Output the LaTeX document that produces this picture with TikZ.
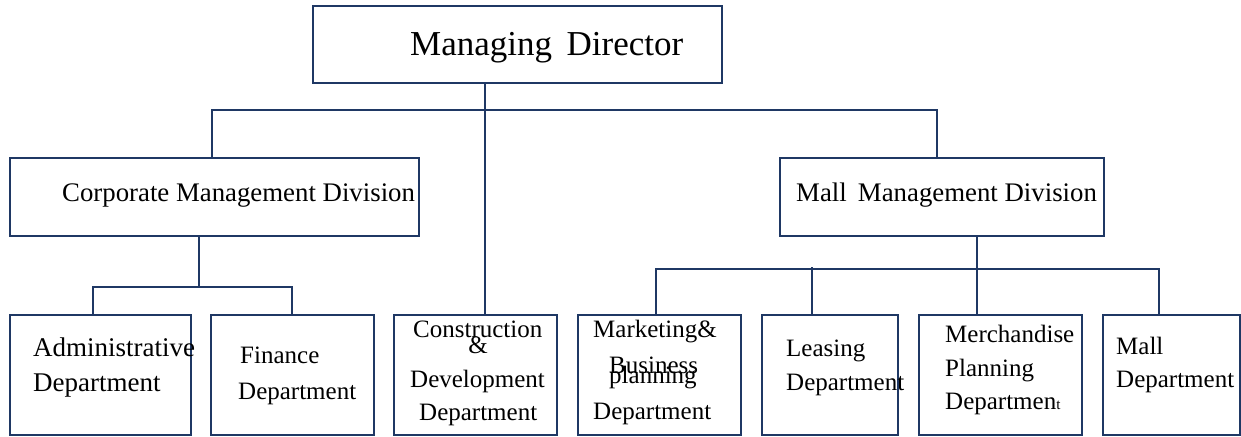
\documentclass[tikz,border=0pt]{standalone}
\usepackage{fontspec}
\setmainfont{Liberation Serif}
\definecolor{navy}{RGB}{31,56,100}
\begin{document}
\begin{tikzpicture}[x=1pt,y=-1pt,
  box/.style={draw=navy, line width=1.9pt, fill=white, rectangle, inner sep=0pt, anchor=north west},
  conn/.style={draw=navy, line width=1.5pt},
  lbl/.style={inner sep=0pt, anchor=base west, font=\fontsize{25}{30}\selectfont},
  divlbl/.style={inner sep=0pt, anchor=base west, font=\fontsize{26.8}{30}\selectfont},
  toplbl/.style={inner sep=0pt, anchor=base west, font=\fontsize{35}{40}\selectfont}]
\useasboundingbox (0,0) rectangle (1241,436);

% boxes
\node[box, minimum width=409, minimum height=77] (md)   at (312,5)   {};
\node[box, minimum width=409, minimum height=78] (cmd)  at (9,157)   {};
\node[box, minimum width=324, minimum height=78] (mmd)  at (779,157) {};
\node[box, minimum width=181, minimum height=120] (adm)  at (9,314)   {};
\node[box, minimum width=163, minimum height=120] (fin)  at (210,314) {};
\node[box, minimum width=163, minimum height=120] (cons) at (393,314) {};
\node[box, minimum width=163, minimum height=120] (mkt)  at (577,314) {};
\node[box, minimum width=136, minimum height=120] (lea)  at (761,314) {};
\node[box, minimum width=163, minimum height=120] (mer)  at (918,314) {};
\node[box, minimum width=137, minimum height=120] (mall) at (1102,314) {};

% connectors
\draw[conn] ([xshift=173]md.south west) -- ([xshift=92]cons.north west);
\draw[conn] ([xshift=203]cmd.north west) -- ++(0,-47) -| ([xshift=158]mmd.north west);
\draw[conn] ([xshift=190]cmd.south west) -- ++(0,50) coordinate (cj);
\draw[conn] ([xshift=84]adm.north west) |- (cj) -| ([xshift=82]fin.north west);
\draw[conn] ([xshift=198]mmd.south west) -- ++(0,32) coordinate (mj);
\draw[conn] ([xshift=79]mkt.north west) |- (mj) -| ([xshift=57]mall.north west);
\draw[conn] (mj) -- ([xshift=59]mer.north west);
\draw[conn] ([xshift=51]lea.north west) -- ++(0,-47);

% labels
\node[toplbl] (tmd) at (410,56) {Managing\, Director};
\node[divlbl] (tcmd) at (62,201) {Corporate Management Division};
\node[divlbl] (tmmd) at (796,201) {Mall\, Management Division};

\node[lbl, font=\fontsize{27}{30}\selectfont] (ta1) at (33,356) {Administrative};
\node[lbl, font=\fontsize{27}{30}\selectfont] (ta2) at (33,391) {Department};

\node[lbl] (tf1) at (240,363) {Finance};
\node[lbl] (tf2) at (238,399) {Department};

\node[lbl] (tc1) at (413,337) {Construction};
\node[lbl, anchor=base] (tc2) at (478,353) {\&};
\node[lbl] (tc3) at (410,387) {Development};
\node[lbl] (tc4) at (419,420) {Department};

\node[lbl] (tm1) at (593,337) {Marketing\&};
\node[lbl] (tm2) at (609,373) {Business};
\node[lbl] (tm3) at (609,383) {planning};
\node[lbl] (tm4) at (593,419) {Department};

\node[lbl] (tl1) at (786,356) {Leasing};
\node[lbl] (tl2) at (786,390) {Department};

\node[lbl] (te1) at (945,342) {Merchandise};
\node[lbl] (te2) at (945,376) {Planning};
\node[lbl] (te3) at (945,409) {Departmen{\fontsize{15}{18}\selectfont t}};

\node[lbl] (tq1) at (1116,354) {Mall};
\node[lbl] (tq2) at (1116,387) {Department};
\end{tikzpicture}
\end{document}
